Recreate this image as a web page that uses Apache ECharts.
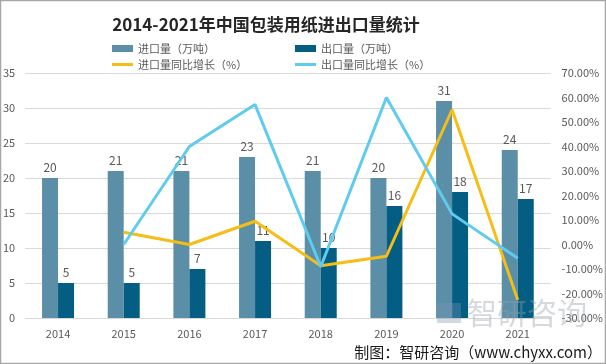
<!DOCTYPE html>
<html><head><meta charset="utf-8">
<script src="https://cdn.jsdelivr.net/npm/echarts@6/dist/echarts.min.js"></script>
<style>html,body{margin:0;padding:0;background:#fff}#c{width:606px;height:364px}</style>
</head><body><div id="c"></div>
<script>
const categories = ['2014','2015','2016','2017','2018','2019','2020','2021'];
const importVol = [20,21,21,23,21,20,31,24];
const exportVol = [5,5,7,11,10,16,18,17];
const importGrowth = [null,5.0,0.0,9.5,-8.7,-4.8,55.0,-22.6];
const exportGrowth = [null,0.0,40.0,57.1,-9.1,60.0,12.5,-5.6];
const leftTicks = {min:0,max:35,interval:5};
const rightTicks = {min:-30,max:70,interval:10};

const FONT = '"Noto Sans CJK SC","Noto Sans",sans-serif';
const gray = '#595959';
const chart = echarts.init(document.getElementById('c'), null, {renderer:'canvas'});
const legendText = {color:gray,fontSize:11,fontFamily:FONT};
chart.setOption({
  backgroundColor:'#fff',
  animation:false,
  title:{text:'2014-2021年中国包装用纸进出口量统计',left:261,top:11,textAlign:'center',
    textStyle:{fontSize:17,fontWeight:'bold',color:'#262626',fontFamily:FONT}},
  legend:[
    {data:['进口量（万吨）'],left:107,top:38,itemWidth:21,itemHeight:7,icon:'rect',itemGap:0,textStyle:legendText},
    {data:['出口量（万吨）'],left:290,top:38,itemWidth:21,itemHeight:7,icon:'rect',itemGap:0,textStyle:legendText},
    {data:['进口量同比增长（%）'],left:107,top:54,itemWidth:21,itemHeight:3,icon:'rect',itemGap:0,textStyle:legendText},
    {data:['出口量同比增长（%）'],left:290,top:54,itemWidth:21,itemHeight:3,icon:'rect',itemGap:0,textStyle:legendText}
  ],
  grid:{left:25,right:54,top:73,bottom:46,containLabel:false},
  xAxis:{type:'category',data:categories,
    axisLine:{lineStyle:{color:'#d9d9d9'}},axisTick:{show:false},
    axisLabel:{color:gray,fontSize:11,fontFamily:FONT,margin:10}},
  yAxis:[
    {type:'value',min:leftTicks.min,max:leftTicks.max,interval:leftTicks.interval,
     axisLabel:{color:gray,fontSize:11,fontFamily:FONT,margin:10},
     splitLine:{lineStyle:{color:'#d9d9d9'}},axisLine:{show:false},axisTick:{show:false}},
    {type:'value',min:rightTicks.min,max:rightTicks.max,interval:rightTicks.interval,
     axisLabel:{color:gray,fontSize:11,fontFamily:FONT,margin:11,formatter:v=>v.toFixed(2)+'%'},
     splitLine:{show:false},axisLine:{show:false},axisTick:{show:false}}
  ],
  series:[
    {name:'进口量（万吨）',type:'bar',data:importVol,barWidth:16,barGap:'0%',
     itemStyle:{color:'#5b8fa8'},
     label:{show:true,position:'top',distance:5,color:gray,fontSize:12,fontFamily:FONT}},
    {name:'出口量（万吨）',type:'bar',data:exportVol,barWidth:16,barGap:'0%',
     itemStyle:{color:'#045e83'},
     label:{show:true,position:'top',distance:5,color:gray,fontSize:12,fontFamily:FONT}},
    {name:'进口量同比增长（%）',type:'line',yAxisIndex:1,data:importGrowth,showSymbol:false,
     symbol:'none',lineStyle:{color:'#f5bd16',width:3},itemStyle:{color:'#f5bd16'}},
    {name:'出口量同比增长（%）',type:'line',yAxisIndex:1,data:exportGrowth,showSymbol:false,
     symbol:'none',lineStyle:{color:'#5fcbee',width:3},itemStyle:{color:'#5fcbee'}}
  ],
  graphic:[
    {type:'rect',shape:{x:0.5,y:0.5,width:605,height:363},style:{fill:'none',stroke:'#a6a6a6',lineWidth:1.5},z:100},
    {type:'rect',shape:{x:437,y:303,width:24,height:20},style:{fill:'rgba(120,150,180,0.35)'},z:50},
    {type:'text',x:467,y:313,style:{text:'智研咨询',font:'30px '+FONT,fill:'rgba(150,160,170,0.4)',textVerticalAlign:'middle'},z:50},
    {type:'text',x:602,y:352,style:{text:'制图：智研咨询（www.chyxx.com）',font:'15px '+FONT,fill:'#1a1a1a',textAlign:'right',textVerticalAlign:'middle'},z:60}
  ]
});
</script></body></html>
